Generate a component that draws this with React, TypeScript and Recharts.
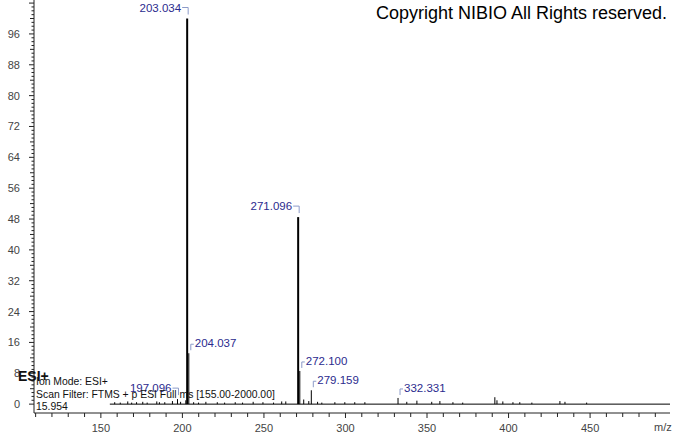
import { ComposedChart, Bar, XAxis, YAxis, ReferenceLine, LabelList } from "recharts";

// m/z values and relative intensities
const mz = [
  158.6, 162, 166.6, 169, 172, 175.8, 178.5, 184.4, 186, 189.3, 194, 197.096, 199, 202.2, 203.034, 204.037,
  207, 210, 214.5, 221.5, 226, 232.5, 237, 243.5, 249.5, 256, 261, 263.5, 271.096, 272.1, 274.5, 277.6,
  279.159, 283, 285.6, 293.6, 299.7, 305.8, 312, 332.331, 337.7, 343.9, 353, 358, 366, 372, 391.7, 393,
  396.6, 402.8, 407, 414.4, 431.6, 434.7, 448,
];
const intensity = [
  0.5, 0.4, 0.7, 0.4, 0.5, 0.6, 0.4, 0.7, 0.5, 0.5, 0.8, 1.3, 0.6, 1.0, 100, 13.2,
  0.5, 0.4, 0.6, 0.5, 0.4, 0.5, 0.4, 0.6, 0.5, 0.4, 0.7, 0.7, 48.5, 8.6, 1.2, 0.8,
  3.6, 0.6, 0.4, 0.5, 0.5, 0.5, 0.5, 1.6, 0.6, 0.9, 0.6, 0.8, 0.5, 0.4, 1.8, 1.0,
  0.7, 0.5, 0.5, 0.4, 0.8, 0.6, 0.4,
];
const labelText: Record<string, string> = {
  "197.096": "197.096",
  "203.034": "203.034",
  "204.037": "204.037",
  "271.096": "271.096",
  "272.1": "272.100",
  "279.159": "279.159",
  "332.331": "332.331",
};
const leftLabels = ["197.096", "203.034", "271.096"];

const yTicks = Array.from({ length: 105 }, (_, i) => i);
const xTicks = Array.from({ length: 39 }, (_, i) => 110 + i * 10);

const data = mz.map((m, i) => ({ mz: m, v: intensity[i], label: labelText[String(m)] }));

const FONT = "'Liberation Sans', Arial, sans-serif";
const AXIS_X = 34;
const AXIS_Y = 413;

function YTick(props: any) {
  const v = props.payload.value;
  const len = v % 8 === 0 ? 5 : v % 4 === 0 ? 4 : 2.5;
  return (
    <g>
      <line x1={AXIS_X} x2={AXIS_X - len} y1={props.y} y2={props.y} stroke="#222" />
      {v % 8 === 0 && v <= 96 && (
        <text x={20} y={props.y + 4} textAnchor="end" fontSize={11} fill="#444" fontFamily={FONT}>
          {v}
        </text>
      )}
    </g>
  );
}

function XTick(props: any) {
  const v = props.payload.value;
  const major = v % 50 === 0;
  return (
    <g>
      <line x1={props.x} x2={props.x} y1={AXIS_Y} y2={AXIS_Y + (major ? 5 : 4)} stroke="#222" />
      {major && (
        <text x={props.x} y={AXIS_Y + 19} textAnchor="middle" fontSize={11} fill="#444" fontFamily={FONT}>
          {v}
        </text>
      )}
    </g>
  );
}

function PeakLabel(props: any) {
  const { x, y, width, value } = props;
  if (!value) return null;
  const px = x + width / 2;
  const left = leftLabels.includes(value);
  if (left) {
    return (
      <g>
        <polyline points={`${px - 5},${y - 11} ${px + 1},${y - 11} ${px + 1},${y - 4}`} fill="none" stroke="#8c9bc9" />
        <text x={px - 6} y={y - 7} textAnchor="end" fontSize={11.5} fill="#2b2b8e" fontFamily={FONT}>
          {value}
        </text>
      </g>
    );
  }
  return (
    <g>
      <polyline points={`${px + 2},${y - 3} ${px + 2},${y - 9} ${px + 5},${y - 9}`} fill="none" stroke="#8c9bc9" />
      <text x={px + 6} y={y - 6} fontSize={11.5} fill="#2b2b8e" fontFamily={FONT}>
        {value}
      </text>
    </g>
  );
}

const Stick = (props: any) => {
  const { x, y, width, height, payload } = props;
  const w = payload.v > 40 ? 2 : 1;
  return <rect x={x + width / 2 - w / 2} y={y} width={w} height={height} fill="#000" />;
};

export default function App() {
  return (
    <div style={{ position: "absolute", left: 0, top: 0, width: 673, height: 433, background: "#fff", fontFamily: FONT }}>
      <ComposedChart width={673} height={433} data={data} margin={{ top: 0, right: 3, bottom: 0, left: 0 }}>
        <XAxis
          dataKey="mz"
          type="number"
          domain={[109, 499]}
          ticks={xTicks}
          allowDataOverflow
          height={20}
          tick={<XTick />}
          tickLine={false}
          axisLine={{ stroke: "#222" }}
          interval={0}
        />
        <YAxis
          type="number"
          domain={[-2.3, 104.8]}
          ticks={yTicks}
          allowDataOverflow
          width={34}
          tick={<YTick />}
          tickLine={false}
          axisLine={{ stroke: "#222" }}
          interval={0}
        />
        <ReferenceLine
          segment={[
            { x: 155.5, y: 0 },
            { x: 499, y: 0 },
          ]}
          stroke="#000"
          ifOverflow="extendDomain"
        />
        <Bar dataKey="v" barSize={1} shape={<Stick />} isAnimationActive={false}>
          <LabelList dataKey="label" content={<PeakLabel />} />
        </Bar>
      </ComposedChart>
      <div style={{ position: "absolute", left: 376, top: 3, fontSize: 18, color: "#000", whiteSpace: "nowrap" }}>
        Copyright NIBIO All Rights reserved.
      </div>
      <div style={{ position: "absolute", left: 654, top: 421, fontSize: 11, color: "#444" }}>m/z</div>
      <div style={{ position: "absolute", left: 18, top: 368, fontSize: 14, fontWeight: "bold", color: "#111" }}>ESI+</div>
      <div style={{ position: "absolute", left: 36, top: 376, fontSize: 10.4, lineHeight: "12.5px", color: "#111", whiteSpace: "nowrap" }}>
        Ion Mode: ESI+
        <br />
        Scan Filter: FTMS + p ESI Full ms [155.00-2000.00]
        <br />
        15.954
      </div>
    </div>
  );
}
